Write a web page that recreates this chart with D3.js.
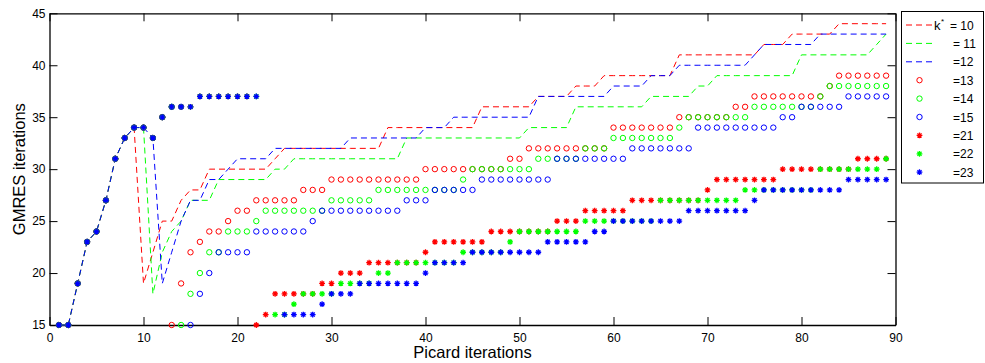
<!DOCTYPE html>
<html>
<head>
<meta charset="utf-8">
<script src="https://cdn.jsdelivr.net/npm/d3@7"></script>
<style>
  html, body { margin: 0; padding: 0; background: #fff; }
  svg { display: block; font-family: "Liberation Sans", Arial, Helvetica, sans-serif; }
</style>
</head>
<body>
<svg id="chart" width="985" height="363"></svg>
<script>
// Axis ticks
const xTicks = [0, 10, 20, 30, 40, 50, 60, 70, 80, 90];
const yTicks = [15, 20, 25, 30, 35, 40, 45];

// Picard iteration index (x = 1 .. 89)
const picardIters = d3.range(1, 90);

// GMRES iterations per Picard step, one array per switching index k*
const gmresK10 = [15,15,19,23,24,27,31,33,34,
  19,22,25,25,27,28,28,
  30,30,30,30,30,30,30,
  31,
  32,32,32,32,32,32,32,32,32,32,32,
  34,34,34,34,34,34,34,34,34,34,
  36,36,36,36,36,36,
  37,37,37,37,
  38,38,38,
  39,39,39,39,39,39,39,39,
  41,41,41,41,41,41,41,41,41,
  42,42,42,
  43,43,43,43,43,
  44,44,44,44,44,44];

const gmresK11 = [15,15,19,23,24,27,31,33,34,34,
  18,22,24,25,27,27,27,29,29,29,29,29,29,30,30,
  31,31,31,31,31,31,31,31,31,31,31,31,
  33,33,33,33,33,33,33,33,33,33,33,33,33,
  34,34,34,34,34,
  36,36,36,36,36,36,36,36,
  37,37,37,37,37,
  38,38,
  39,39,39,39,39,39,39,39,39,
  41,41,41,41,41,41,41,41,
  42,43];

const gmresK12 = [15,15,19,23,24,27,31,33,34,34,33,
  19,22,25,27,27,29,29,30,31,31,31,31,
  32,32,32,32,32,32,32,32,
  33,33,33,33,33,33,33,33,
  34,34,34,
  35,35,35,35,35,35,35,35,35,
  37,37,37,37,37,37,37,37,
  38,38,38,38,
  39,39,39,
  40,40,40,40,40,40,40,40,
  41,
  42,42,42,42,42,42,
  43,43,43,43,43,43,43,43];

const gmresK13 = [15,15,19,23,24,27,31,33,34,34,33,35,
  15,19,22,23,24,24,25,26,26,
  27,27,27,27,27,
  28,28,28,
  29,29,29,29,29,29,29,29,29,29,
  30,30,30,30,30,30,30,30,30,
  31,31,
  32,32,32,32,32,32,32,32,32,
  34,34,34,34,34,34,34,
  35,35,35,35,35,35,
  36,36,
  37,37,37,37,37,37,37,37,
  38,
  39,39,39,39,39,39];

const gmresK14 = [15,15,19,23,24,27,31,33,34,34,33,35,36,
  15,18,20,22,22,24,24,24,25,
  26,26,26,26,26,26,26,
  27,27,27,27,27,
  28,28,28,28,28,28,28,28,28,
  29,
  30,30,30,30,30,30,30,
  31,31,31,31,31,
  32,32,32,
  33,33,33,33,33,33,33,
  34,
  35,35,35,35,35,35,35,
  36,36,36,36,36,36,36,
  37,
  38,38,38,38,38,38,38];

const gmresK15 = [15,15,19,23,24,27,31,33,34,34,33,35,36,36,
  15,18,20,22,22,22,22,
  24,24,24,24,24,24,
  25,
  26,26,26,26,26,26,26,26,26,
  27,27,27,
  28,28,28,28,28,
  29,29,29,29,29,29,29,29,
  31,31,31,31,31,31,31,31,
  32,32,32,32,32,32,32,
  34,34,34,34,34,34,34,34,34,
  35,35,
  36,36,36,36,36,
  37,37,37,37,37];

const gmresK21 = [15,15,19,23,24,27,31,33,34,34,33,35,36,36,36,37,37,37,37,37,37,
  15,16,
  18,18,18,18,18,
  19,19,
  20,20,20,
  21,21,21,21,21,21,
  22,
  23,23,23,23,23,23,
  24,24,24,24,24,24,24,
  25,25,25,
  26,26,26,26,26,
  27,27,27,27,27,27,27,27,
  28,
  29,29,29,29,29,29,29,
  30,30,30,30,30,30,30,30,
  31,31,31,31];

const gmresK22 = [15,15,19,23,24,27,31,33,34,34,33,35,36,36,36,37,37,37,37,37,37,37,
  null,
  16,16,17,
  18,18,18,18,
  19,19,19,19,
  20,20,
  21,21,21,21,21,21,21,
  22,22,22,22,22,
  23,
  24,24,24,24,24,24,24,
  25,25,25,25,25,25,25,25,
  27,27,27,27,27,27,27,27,27,
  28,28,28,28,28,28,28,28,
  30,30,30,30,30,30,30,
  31];

const gmresK23 = [15,15,19,23,24,27,31,33,34,34,33,35,36,36,36,37,37,37,37,37,37,37,
  null,null,
  16,16,16,16,
  17,
  18,18,18,
  19,19,19,19,19,19,19,
  20,
  21,21,21,21,
  22,22,22,22,22,22,22,22,
  23,23,23,23,23,
  24,24,
  25,25,25,25,25,25,25,25,
  26,26,26,26,26,26,26,
  27,
  28,28,28,28,28,28,28,28,28,
  29,29,29,29,29];

const legendLabels = ["= 10", "= 11", "=12", "=13", "=14", "=15", "=21", "=22", "=23"];

// Series drawing specs (order = drawing order)
const series = [
  { values: gmresK10, color: "#ff0000", kind: "dash" },
  { values: gmresK11, color: "#00ff00", kind: "dash" },
  { values: gmresK12, color: "#0000ff", kind: "dash" },
  { values: gmresK13, color: "#ff0000", kind: "circle" },
  { values: gmresK14, color: "#00ff00", kind: "circle" },
  { values: gmresK15, color: "#0000ff", kind: "circle" },
  { values: gmresK21, color: "#ff0000", kind: "star" },
  { values: gmresK22, color: "#00ff00", kind: "star" },
  { values: gmresK23, color: "#0000ff", kind: "star" }
];
series.forEach((s, i) => s.label = legendLabels[i]);

const svg = d3.select("#chart");
const plot = { left: 49.5, right: 895.5, top: 13.3, bottom: 325 };

const x = d3.scaleLinear().domain([0, 90]).range([plot.left, plot.right]);
const y = d3.scaleLinear().domain([15, 45]).range([plot.bottom, plot.top]);

const TICK = 8;

// Axes (ticks point inward on all four sides)
function styleAxis(g) {
  g.select(".domain").attr("stroke", "#000").attr("stroke-width", 1.3);
  g.selectAll(".tick line").attr("stroke", "#000").attr("stroke-width", 1);
  g.selectAll(".tick text").attr("fill", "#000").style("font-size", "12px")
    .style("font-family", '"Liberation Sans", Arial, Helvetica, sans-serif');
}

svg.append("g")
  .attr("transform", `translate(0,${plot.bottom})`)
  .call(d3.axisBottom(x).tickValues(xTicks).tickSizeInner(-TICK).tickSizeOuter(0).tickPadding(8))
  .call(styleAxis);

svg.append("g")
  .attr("transform", `translate(0,${plot.top})`)
  .call(d3.axisTop(x).tickValues(xTicks).tickSizeInner(-TICK).tickSizeOuter(0).tickFormat(""))
  .call(styleAxis);

svg.append("g")
  .attr("transform", `translate(${plot.left},0)`)
  .call(d3.axisLeft(y).tickValues(yTicks).tickSizeInner(-TICK).tickSizeOuter(0).tickPadding(4))
  .call(styleAxis);

svg.append("g")
  .attr("transform", `translate(${plot.right},0)`)
  .call(d3.axisRight(y).tickValues(yTicks).tickSizeInner(-TICK).tickSizeOuter(0).tickFormat(""))
  .call(styleAxis);

// Axis titles
svg.append("text")
  .attr("x", (plot.left + plot.right) / 2)
  .attr("y", 358)
  .attr("text-anchor", "middle")
  .style("font-size", "16.5px")
  .text("Picard iterations");

svg.append("text")
  .attr("transform", `translate(25,${(plot.top + plot.bottom) / 2}) rotate(-90)`)
  .attr("text-anchor", "middle")
  .style("font-size", "16.5px")
  .text("GMRES iterations");

// Marker shapes
const R = 2.7;      // circle radius
const S = 2.9;      // asterisk arm length
const D = S * 0.7071;
const starPath = `M${-S},0L${S},0M0,${-S}L0,${S}M${-D},${-D}L${D},${D}M${-D},${D}L${D},${-D}`;

const line = d3.line()
  .defined(d => d.v != null)
  .x(d => x(d.k))
  .y(d => y(d.v));

const dataLayer = svg.append("g");

series.forEach(s => {
  const pts = picardIters.map((k, i) => ({ k, v: s.values[i] }));
  if (s.kind === "dash") {
    dataLayer.append("path")
      .datum(pts)
      .attr("d", line)
      .attr("fill", "none")
      .attr("stroke", s.color)
      .attr("stroke-width", 1)
      .attr("stroke-dasharray", "6,4");
  } else if (s.kind === "circle") {
    dataLayer.append("g").selectAll("circle")
      .data(pts.filter(d => d.v != null))
      .join("circle")
      .attr("cx", d => x(d.k))
      .attr("cy", d => y(d.v))
      .attr("r", R)
      .attr("fill", "none")
      .attr("stroke", s.color)
      .attr("stroke-width", 1);
  } else {
    dataLayer.append("g").selectAll("path")
      .data(pts.filter(d => d.v != null))
      .join("path")
      .attr("transform", d => `translate(${x(d.k)},${y(d.v)})`)
      .attr("d", starPath)
      .attr("fill", "none")
      .attr("stroke", s.color)
      .attr("stroke-width", 1.3);
  }
});

// Legend
const legend = svg.append("g");
legend.append("rect")
  .attr("x", 901.5).attr("y", 11.5)
  .attr("width", 82).attr("height", 171.5)
  .attr("fill", "#fff")
  .attr("stroke", "#000")
  .attr("stroke-width", 1);

const rowY0 = 25, rowStep = 18.4;
series.forEach((s, i) => {
  const cy = rowY0 + i * rowStep;
  if (s.kind === "dash") {
    legend.append("line")
      .attr("x1", 906).attr("x2", 932)
      .attr("y1", cy).attr("y2", cy)
      .attr("stroke", s.color).attr("stroke-width", 1)
      .attr("stroke-dasharray", "6,4");
  } else if (s.kind === "circle") {
    legend.append("circle")
      .attr("cx", 919.5).attr("cy", cy).attr("r", R)
      .attr("fill", "none").attr("stroke", s.color).attr("stroke-width", 1);
  } else {
    legend.append("path")
      .attr("transform", `translate(919.5,${cy})`)
      .attr("d", starPath)
      .attr("fill", "none").attr("stroke", s.color).attr("stroke-width", 1.3);
  }
  if (i === 0) {
    const t = legend.append("text").attr("y", cy + 4.5).style("font-size", "12px");
    t.append("tspan").attr("x", 934).style("font-size", "13px").text("k");
    t.append("tspan").attr("x", 941).attr("dy", -6).style("font-size", "8px").text("*");
    t.append("tspan").attr("x", 950).attr("dy", 6).text(s.label);
  } else {
    legend.append("text")
      .attr("x", 953).attr("y", cy + 4.5)
      .style("font-size", "12px")
      .text(s.label);
  }
});
</script>
</body>
</html>
